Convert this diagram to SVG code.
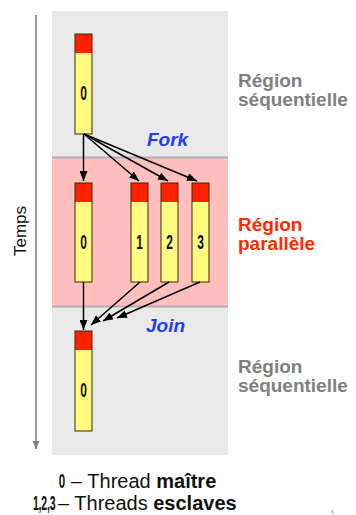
<svg xmlns="http://www.w3.org/2000/svg" width="356" height="515" viewBox="0 0 356 515">
  <style>
    .bar-red { fill: #FF2200; }
    .bar-yellow { fill: #FFFA80; }
    .bar-frame { fill: none; stroke: #3a2a00; stroke-width: 1; }
    .num { font-family: "Liberation Sans", Arial, sans-serif; font-weight: bold; font-size: 20px; fill: #111; text-anchor: middle; }
    .tag { font-family: "Liberation Sans", Arial, sans-serif; font-weight: bold; font-size: 21px; fill: #111; }
    .link { stroke: #000; stroke-width: 1.5; fill: none; marker-end: url(#head); }
    .phase { font-family: "Liberation Sans", Arial, sans-serif; font-weight: bold; font-style: italic; font-size: 19px; fill: #1F3DFF; }
    .region { font-family: "Liberation Sans", Arial, sans-serif; font-weight: bold; font-size: 19px; }
    .legend { font-family: "Liberation Sans", Arial, sans-serif; font-size: 20px; fill: #111; }
  </style>
  <defs>
    <marker id="head" markerUnits="userSpaceOnUse" markerWidth="10" markerHeight="8" refX="10" refY="4" orient="auto">
      <path d="M0,0 L10,4 L0,8 z" fill="#000"/>
    </marker>
    <marker id="timehead" markerUnits="userSpaceOnUse" markerWidth="8" markerHeight="8" refX="8" refY="3.5" orient="auto">
      <path d="M0,0 L8,3.5 L0,7 z" fill="#808080"/>
    </marker>
  </defs>

  <!-- backdrop: sequential / parallel / sequential -->
  <g id="backdrop">
    <rect x="52" y="11" width="176" height="444" fill="#E9E9E9"/>
    <rect x="52" y="158" width="176" height="148" fill="#FFBFBF"/>
    <line x1="52" y1="157.5" x2="228" y2="157.5" stroke="#B0B0B0" stroke-width="2"/>
    <line x1="52" y1="306.5" x2="228" y2="306.5" stroke="#B0B0B0" stroke-width="2"/>
  </g>

  <!-- time axis -->
  <g id="time-axis">
    <line x1="36" y1="15" x2="36" y2="449" stroke="#808080" stroke-width="1.6" marker-end="url(#timehead)"/>
    <text x="26" y="231" transform="rotate(-90 26 231)" text-anchor="middle" font-family="Liberation Sans, Arial, sans-serif" font-size="17" fill="#111">Temps</text>
  </g>

  <!-- master thread, first sequential region -->
  <g id="thread-0-start">
    <rect class="bar-yellow" x="75" y="34" width="17" height="100"/>
    <rect class="bar-red" x="75" y="34" width="17" height="19"/>
    <rect class="bar-frame" x="75" y="34" width="17" height="100"/>
    <text class="num" transform="translate(83.5 100) scale(0.6 1)">0</text>
  </g>

  <!-- parallel region threads -->
  <g id="thread-0">
    <rect class="bar-yellow" x="75" y="183" width="17" height="99"/>
    <rect class="bar-red" x="75" y="183" width="17" height="19"/>
    <rect class="bar-frame" x="75" y="183" width="17" height="99"/>
    <text class="num" transform="translate(83.5 249) scale(0.6 1)">0</text>
  </g>
  <g id="thread-1">
    <rect class="bar-yellow" x="131" y="183" width="17" height="99"/>
    <rect class="bar-red" x="131" y="183" width="17" height="19"/>
    <rect class="bar-frame" x="131" y="183" width="17" height="99"/>
    <text class="num" transform="translate(139.5 249) scale(0.6 1)">1</text>
  </g>
  <g id="thread-2">
    <rect class="bar-yellow" x="161" y="183" width="17" height="99"/>
    <rect class="bar-red" x="161" y="183" width="17" height="19"/>
    <rect class="bar-frame" x="161" y="183" width="17" height="99"/>
    <text class="num" transform="translate(169.5 249) scale(0.6 1)">2</text>
  </g>
  <g id="thread-3">
    <rect class="bar-yellow" x="192" y="183" width="17" height="99"/>
    <rect class="bar-red" x="192" y="183" width="17" height="19"/>
    <rect class="bar-frame" x="192" y="183" width="17" height="99"/>
    <text class="num" transform="translate(200.5 249) scale(0.6 1)">3</text>
  </g>

  <!-- master thread, second sequential region -->
  <g id="thread-0-end">
    <rect class="bar-yellow" x="75" y="331" width="17" height="100"/>
    <rect class="bar-red" x="75" y="331" width="17" height="19"/>
    <rect class="bar-frame" x="75" y="331" width="17" height="100"/>
    <text class="num" transform="translate(83.5 397) scale(0.6 1)">0</text>
  </g>

  <!-- fork and join connectors -->
  <g id="connectors">
    <line class="link" x1="83.5" y1="134" x2="83.5" y2="181"/>
    <line class="link" x1="84" y1="134" x2="139" y2="181"/>
    <line class="link" x1="84" y1="134" x2="168" y2="181"/>
    <line class="link" x1="84" y1="134" x2="197" y2="181"/>
    <line class="link" x1="83.5" y1="282" x2="83.5" y2="330"/>
    <line class="link" x1="140" y1="282" x2="91" y2="325"/>
    <line class="link" x1="169" y1="282" x2="103" y2="321"/>
    <line class="link" x1="200" y1="282" x2="117" y2="318"/>
  </g>

  <!-- phase labels -->
  <g id="label-fork"><text class="phase" x="147" y="146">Fork</text></g>
  <g id="label-join"><text class="phase" x="146" y="332">Join</text></g>

  <!-- region labels -->
  <g id="label-seq-1" class="region" fill="#808080">
    <text x="238" y="87">Région</text>
    <text x="238" y="106">séquentielle</text>
  </g>
  <g id="label-par" class="region" fill="#FF2A00">
    <text x="238" y="231">Région</text>
    <text x="238" y="250">parallèle</text>
  </g>
  <g id="label-seq-2" class="region" fill="#808080">
    <text x="238" y="373">Région</text>
    <text x="238" y="392">séquentielle</text>
  </g>

  <!-- legend -->
  <g id="legend">
    <text class="tag" text-anchor="middle" transform="translate(62 488) scale(0.55 1)">0</text>
    <text class="legend" x="71" y="488">– Thread <tspan font-weight="bold">maître</tspan></text>
    <text class="tag" transform="translate(33 510) scale(0.5 1)" x="0 11 16.5 28 33.5">1,2,3</text>
    <text class="legend" x="58" y="510">– Threads <tspan font-weight="bold">esclaves</tspan></text>
  </g>

  <!-- slide number -->
  <text x="331" y="514" font-family="Liberation Sans, Arial, sans-serif" font-size="5" fill="#999">6</text>
</svg>
